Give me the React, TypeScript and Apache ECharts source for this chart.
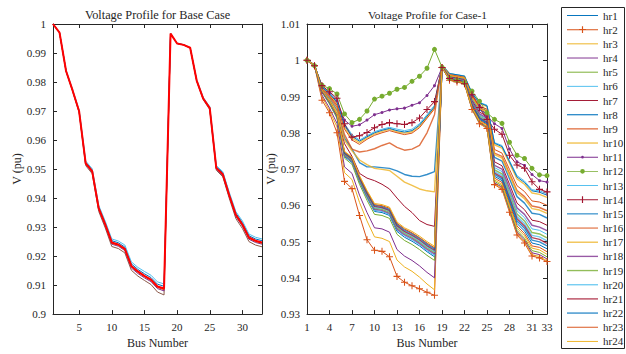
import React, { useEffect, useRef } from 'react';
import * as echarts from 'echarts';

const FONT = '"Times New Roman", "Liberation Serif", serif';
const INK = '#262626';

const buses = ['1','2','3','4','5','6','7','8','9','10','11','12','13','14','15','16','17','18','19','20','21','22','23','24','25','26','27','28','29','30','31','32','33'];

// Base case (left panel)
const baseDark = [1.0,.997,.9836,.9768,.9695,.9512,.9484,.9354,.9297,.9233,.9226,.9211,.9151,.9131,.9116,.9102,.9076,.9066,.9967,.9933,.9928,.9918,.9803,.9739,.9705,.9496,.9473,.9398,.9329,.9295,.925,.9238,.9232];
const basePurple = [1.0,.997,.9837,.977,.9697,.9516,.9489,.936,.9303,.9241,.9234,.9219,.9159,.914,.9125,.9112,.9088,.908,.9967,.9933,.9928,.9918,.9804,.9741,.9708,.95,.9477,.9404,.9336,.9303,.9258,.9247,.9241];
const baseOrange = [1.0,.997,.9838,.977,.9698,.9518,.9491,.9362,.9306,.9244,.9237,.9222,.9163,.9144,.9129,.9116,.9092,.9084,.9967,.9933,.9928,.9918,.9805,.9742,.9709,.9502,.948,.9406,.9339,.9306,.9261,.925,.9244];
const baseBlue = [1.0,.997,.9839,.9772,.9701,.9524,.9497,.937,.9315,.9253,.9246,.9231,.9173,.9154,.9139,.9126,.9103,.9096,.9967,.9933,.9928,.9918,.9806,.9745,.9712,.9508,.9487,.9414,.9348,.9315,.927,.9259,.9253];
const baseCyan = [1.0,.997,.984,.9774,.9703,.9528,.9501,.9375,.932,.9259,.9252,.9238,.918,.9161,.9147,.9134,.9111,.9104,.9967,.9934,.9929,.9919,.9808,.9747,.9715,.9512,.9491,.9419,.9353,.9321,.9276,.9265,.9259];
const baseRed = [1.0,.997,.9838,.9771,.9699,.952,.9493,.9365,.9309,.9247,.924,.9225,.9166,.9147,.9132,.9119,.9095,.9088,.9967,.9933,.9928,.9918,.9805,.9743,.971,.9504,.9482,.9409,.9342,.9309,.9264,.9253,.9247];

// Case-1 (right panel), hourly profiles
const hr1 = [1,.9986,.9913,.9881,.9843,.9734,.9718,.9664,.9621,.9583,.958,.9572,.9528,.9512,.9501,.9488,.9472,.9458,.9981,.9949,.9944,.9939,.9873,.9837,.9824,.968,.9668,.9609,.955,.9529,.9496,.9491,.948];
const hr2 = [1,.9985,.989,.9855,.98,.9666,.9646,.9572,.9505,.9476,.9473,.9458,.9404,.9388,.9378,.937,.936,.9352,.998,.9945,.994,.9935,.9864,.9825,.9812,.9657,.9644,.9581,.9518,.9496,.946,.9455,.9445];
const hr3 = [1,.9984,.9899,.9861,.9816,.969,.9671,.9608,.9557,.9513,.9509,.95,.9449,.943,.9418,.9402,.9383,.9367,.998,.9945,.994,.9935,.9865,.9826,.9813,.9659,.9647,.9584,.9522,.95,.9464,.9459,.9447];
const hr4 = [1,.9985,.9904,.9868,.9826,.9706,.9688,.9628,.958,.9538,.9535,.9526,.9478,.946,.9448,.9433,.9415,.94,.998,.9946,.9941,.9936,.9866,.9828,.9815,.9662,.965,.9588,.9526,.9504,.9469,.9464,.9452];
const hr5 = [1,.9986,.9912,.9879,.984,.973,.9713,.9658,.9614,.9575,.9572,.9564,.952,.9503,.9492,.9478,.9462,.9448,.998,.9946,.9941,.9937,.9868,.983,.9817,.9666,.9654,.9592,.9531,.9509,.9475,.947,.9458];
const hr6 = [1,.9987,.9914,.9882,.9844,.9736,.972,.9666,.9623,.9586,.9583,.9575,.9532,.9516,.9505,.9492,.9475,.9462,.9983,.9952,.9948,.9944,.9883,.9849,.9838,.9704,.9693,.9639,.9585,.9566,.9535,.9531,.952];
const hr7 = [1,.9985,.991,.9888,.985,.977,.9735,.9688,.9675,.9668,.9658,.9645,.962,.9597,.958,.9558,.9547,.9542,.9984,.9955,.9951,.9947,.9889,.9857,.9846,.972,.9709,.9658,.9606,.9588,.9559,.9555,.9545];
const hr8 = [1,.9985,.9915,.9895,.9862,.9785,.9755,.9718,.9706,.9706,.9704,.9702,.9695,.9685,.968,.9679,.9685,.9693,.9984,.9957,.9953,.9949,.9894,.9863,.9853,.9732,.9722,.9673,.9624,.9606,.9578,.9575,.9565];
const hr9 = [1,.9985,.992,.99,.987,.9795,.9755,.9747,.975,.9756,.9765,.9772,.976,.9752,.9755,.9765,.98,.985,.9985,.9959,.9955,.9951,.9899,.987,.986,.9744,.9735,.9688,.9641,.9624,.9598,.9594,.9585];
const hr10 = [1,.9985,.9924,.9905,.988,.9815,.9785,.9773,.9786,.9797,.9804,.981,.9803,.9799,.9803,.9818,.9843,.987,.9986,.9963,.9959,.9956,.9908,.9881,.9872,.9767,.9758,.9716,.9673,.9658,.9634,.963,.9622];
const hr11 = [1,.9985,.9927,.991,.9888,.9835,.9818,.9822,.9835,.985,.9856,.9863,.9866,.9868,.9876,.9883,.9903,.993,.998,.9949,.9944,.9937,.9905,.9875,.9845,.9825,.9812,.9755,.972,.971,.9685,.9668,.9664];
const hr12 = [1,.9985,.9931,.9922,.9907,.9852,.9828,.9837,.986,.9893,.9901,.9909,.992,.9925,.9942,.9956,.9978,1.003,.9981,.995,.9945,.9938,.9915,.9887,.9855,.9837,.9826,.9774,.9738,.9729,.9702,.9684,.9682];
const hr13 = [1,.9985,.9928,.991,.9888,.9825,.9795,.978,.9792,.9803,.981,.9815,.981,.9806,.981,.9825,.985,.9876,.9987,.9964,.996,.9957,.991,.9884,.9876,.9773,.9765,.9723,.9682,.9667,.9643,.964,.9632];
const hr14 = [1,.9985,.993,.9913,.9895,.9825,.9788,.9792,.9801,.9814,.9823,.9828,.9825,.9823,.9828,.9841,.9864,.9886,.998,.995,.9944,.9935,.9905,.987,.9837,.981,.9796,.9738,.9711,.9702,.9665,.9644,.9637];
const hr15 = [1,.9985,.9926,.9907,.9884,.982,.979,.9777,.9789,.98,.9807,.9812,.9806,.9802,.9806,.9821,.9846,.9872,.9987,.9963,.996,.9956,.9909,.9883,.9874,.9771,.9762,.972,.9678,.9663,.964,.9636,.9628];
const hr16 = [1,.9985,.9922,.9902,.9876,.981,.978,.9768,.9782,.9793,.98,.9806,.98,.9795,.9799,.9814,.984,.9866,.9986,.996,.9957,.9953,.9902,.9874,.9865,.9754,.9744,.9699,.9654,.9638,.9612,.9609,.96];
const hr17 = [1,.9985,.9913,.9892,.9858,.978,.975,.9725,.9712,.9702,.9699,.9696,.968,.9664,.9655,.9645,.964,.9637,.9985,.9958,.9954,.9951,.9897,.9867,.9857,.974,.973,.9683,.9635,.9618,.9591,.9587,.9578];
const hr18 = [1,.9987,.9915,.9883,.9845,.9738,.9722,.9669,.9626,.9589,.9586,.9578,.9535,.9519,.9509,.9495,.9479,.9466,.9983,.9953,.9949,.9945,.9885,.9852,.9841,.971,.97,.9647,.9593,.9575,.9545,.954,.953];
const hr19 = [1,.9987,.9915,.9883,.9846,.974,.9724,.9671,.9629,.9592,.9589,.9581,.9539,.9523,.9512,.9499,.9483,.947,.9982,.9951,.9947,.9943,.988,.9846,.9834,.9698,.9687,.9632,.9576,.9557,.9525,.9521,.951];
const hr20 = [1,.9987,.9916,.9884,.9847,.9742,.9726,.9673,.9631,.9594,.9592,.9584,.9542,.9526,.9515,.9502,.9486,.9473,.9982,.9951,.9946,.9942,.9878,.9844,.9832,.9693,.9682,.9626,.9569,.9549,.9517,.9513,.9502];
const hr21 = [1,.9987,.9916,.9885,.9848,.9743,.9728,.9675,.9633,.9597,.9594,.9586,.9544,.9528,.9518,.9505,.9489,.9476,.9982,.995,.9945,.9941,.9877,.9841,.9829,.9689,.9677,.962,.9563,.9543,.9511,.9506,.9495];
const hr22 = [1,.9987,.9917,.9886,.9849,.9745,.973,.9678,.9636,.96,.9597,.9589,.9548,.9532,.9522,.9509,.9493,.948,.9982,.9949,.9945,.994,.9875,.9839,.9827,.9685,.9673,.9615,.9557,.9537,.9504,.9499,.9488];
const hr23 = [1,.9987,.9917,.9886,.985,.9747,.9731,.9679,.9638,.9602,.9599,.9592,.955,.9535,.9524,.9511,.9496,.9483,.9981,.9948,.9943,.9938,.9871,.9834,.9822,.9675,.9663,.9603,.9543,.9522,.9488,.9484,.9472];
const hr24 = [1,.9987,.9918,.9887,.9851,.9749,.9733,.9682,.9641,.9605,.9602,.9595,.9554,.9538,.9528,.9515,.95,.9487,.9981,.9947,.9942,.9937,.9869,.9832,.9819,.967,.9658,.9598,.9537,.9516,.9482,.9477,.9465];

const hourNames = ['hr1','hr2','hr3','hr4','hr5','hr6','hr7','hr8','hr9','hr10','hr11','hr12','hr13','hr14','hr15','hr16','hr17','hr18','hr19','hr20','hr21','hr22','hr23','hr24'];
const hourData = [hr1,hr2,hr3,hr4,hr5,hr6,hr7,hr8,hr9,hr10,hr11,hr12,hr13,hr14,hr15,hr16,hr17,hr18,hr19,hr20,hr21,hr22,hr23,hr24];

const palette = ['#0072BD','#D95319','#EDB120','#7E2F8E','#77AC30','#4DBEEE','#A2142F'];
const thickHours = ['hr8','hr9','hr10','hr17','hr18','hr19','hr20','hr21','hr22'];
const plusMarker = 'path://M3.4,0H4.6V3.4H8V4.6H4.6V8H3.4V4.6H0V3.4H3.4Z';

// legend icons (line sample with optional marker)
const iconLine = 'path://M0,4.5H32V5.5H0Z';
const iconThick = 'path://M0,4.3H32V5.7H0Z';
const iconPlus = 'path://M0,4.5H32V5.5H0Z M15.4,1.5H16.6V4.4H19.5V5.6H16.6V8.5H15.4V5.6H12.5V4.4H15.4Z';
const iconBigDot = 'path://M0,4.5H32V5.5H0Z M13.6,5A2.4,2.4 0 1 1 18.4,5A2.4,2.4 0 1 1 13.6,5Z';
const iconSmallDot = 'path://M0,4.5H32V5.5H0Z M14.6,5A1.4,1.4 0 1 1 17.4,5A1.4,1.4 0 1 1 14.6,5Z';

export default function App() {
  const ref = useRef<HTMLDivElement>(null);
  useEffect(() => {
    const chart = echarts.init(ref.current as HTMLDivElement, null, { renderer: 'svg' });

    const txt = { color: INK, fontFamily: FONT, fontSize: 11 };
    const nameTxt = { color: INK, fontFamily: FONT, fontSize: 12 };

    const leftTickFn = (i: number) => (i + 1) % 5 === 0;
    const rightTickFn = (i: number) => i % 3 === 0 || i === 32;

    const mkX = (grid: number, pos: 'top' | 'bottom', fn: any, showLabel: boolean) => ({
      type: 'category', gridIndex: grid, data: buses, boundaryGap: false, position: pos,
      axisLine: { show: true, onZero: false, lineStyle: { color: INK, width: 1 } },
      axisTick: { show: true, inside: true, length: 4, interval: fn, lineStyle: { color: INK } },
      axisLabel: { show: showLabel, interval: fn, margin: 7, ...txt },
      splitLine: { show: false },
      ...(showLabel ? { name: 'Bus Number', nameLocation: 'middle', nameGap: 21, nameTextStyle: nameTxt } : {}),
    });
    const mkY = (grid: number, pos: 'left' | 'right', min: number, max: number, showLabel: boolean) => ({
      type: 'value', gridIndex: grid, position: pos, min, max, interval: 0.01,
      axisLine: { show: true, onZero: false, lineStyle: { color: INK, width: 1 } },
      axisTick: { show: true, inside: true, length: 4, lineStyle: { color: INK } },
      axisLabel: { show: showLabel, margin: 7, ...txt },
      splitLine: { show: false },
      ...(showLabel ? { name: 'V (pu)', nameLocation: 'middle', nameGap: 30, nameTextStyle: nameTxt } : {}),
    });

    const leftLines: [number[], string, number][] = [
      [baseDark, '#8C5A4B', 1],
      [basePurple, '#7E2F8E', 1],
      [baseOrange, '#D95319', 1],
      [baseBlue, '#0072BD', 1],
      [baseCyan, '#4DBEEE', 1],
      [baseRed, '#FF0000', 2],
    ];
    const leftSeries = leftLines.map(([d, c, w]) => ({
      type: 'line', data: d, xAxisIndex: 0, yAxisIndex: 0, symbol: 'none', silent: true,
      lineStyle: { color: c, width: w }, itemStyle: { color: c },
    }));

    const rightSeries = hourData.map((d, i) => {
      const name = hourNames[i];
      const color = palette[i % 7];
      const thick = thickHours.includes(name);
      const s: any = {
        type: 'line', name, data: d, xAxisIndex: 2, yAxisIndex: 2, silent: true,
        symbol: 'none', showAllSymbol: true,
        lineStyle: { color, width: thick ? 1.4 : 1, opacity: thick ? 0.8 : 1 },
        itemStyle: { color, borderWidth: 0 },
      };
      if (name === 'hr2' || name === 'hr14') { s.symbol = plusMarker; s.symbolSize = 7; }
      if (name === 'hr11') { s.symbol = 'circle'; s.symbolSize = 3; }
      if (name === 'hr12') { s.symbol = 'circle'; s.symbolSize = 5; }
      return s;
    });

    const legendData = hourNames.map((n, i) => {
      let icon = thickHours.includes(n) ? iconThick : iconLine;
      if (n === 'hr2' || n === 'hr14') icon = iconPlus;
      if (n === 'hr11') icon = iconSmallDot;
      if (n === 'hr12') icon = iconBigDot;
      const c = palette[i % 7];
      return { name: n, icon, itemStyle: { color: c, borderWidth: 0, opacity: thickHours.includes(n) ? 0.8 : 1 } };
    });

    chart.setOption({
      animation: false,
      backgroundColor: '#ffffff',
      grid: [
        { left: 53, top: 24, width: 209, height: 297.5 },
        { left: 307, top: 24, width: 240, height: 297.5 },
      ],
      xAxis: [
        mkX(0, 'bottom', leftTickFn, true),
        mkX(0, 'top', leftTickFn, false),
        mkX(1, 'bottom', rightTickFn, true),
        mkX(1, 'top', rightTickFn, false),
      ],
      yAxis: [
        mkY(0, 'left', 0.9, 1, true),
        mkY(0, 'right', 0.9, 1, false),
        mkY(1, 'left', 0.93, 1.01, true),
        mkY(1, 'right', 0.93, 1.01, false),
      ],
      legend: {
        data: legendData, orient: 'vertical', left: 567, top: 10, padding: 0,
        itemWidth: 31, itemHeight: 10, itemGap: 3.17, selectedMode: false,
        itemStyle: { borderWidth: 0 },
        textStyle: { color: INK, fontFamily: FONT, fontSize: 11 },
      },
      graphic: [
        { type: 'rect', shape: { x: 561.5, y: 7.5, width: 63, height: 341 }, style: { fill: 'none', stroke: INK, lineWidth: 1 }, silent: true },
        { type: 'text', x: 157.5, y: 15, style: { text: 'Voltage Profile for Base Case', fill: INK, font: `12.3px ${FONT}`, align: 'center', verticalAlign: 'middle', textAlign: 'center', textVerticalAlign: 'middle' } },
        { type: 'text', x: 427.5, y: 15, style: { text: 'Voltage Profile for Case-1', fill: INK, font: `11.4px ${FONT}`, align: 'center', verticalAlign: 'middle', textAlign: 'center', textVerticalAlign: 'middle' } },
      ],
      series: [...leftSeries, ...rightSeries],
    });
    return () => chart.dispose();
  }, []);
  return <div ref={ref} style={{ position: 'fixed', left: 0, top: 0, width: 626, height: 354, background: '#fff' }} />;
}
